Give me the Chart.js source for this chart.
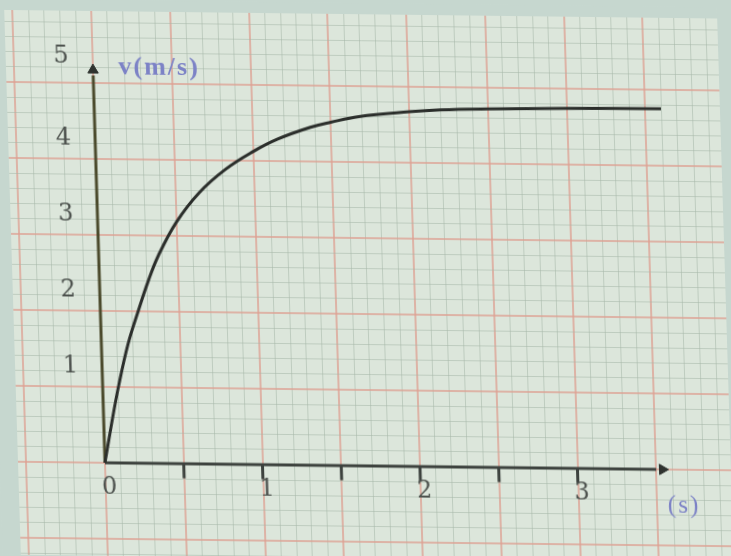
<!DOCTYPE html>
<html>
<head>
<meta charset="utf-8">
<title>v(t)</title>
<script src="https://cdn.jsdelivr.net/npm/chart.js@4.4.1/dist/chart.umd.min.js"></script>
<style>
  html, body { margin: 0; padding: 0; background: #c6d7cf; overflow: hidden; }
  #plot {
    display: block;
    transform-origin: 105px 463px;
    transform: matrix(1, 0.012, 0.0305, 1, 0, 0);
  }
</style>
</head>
<body>
<canvas id="plot" width="731" height="556"></canvas>
<script>
// speed curve, read point by point
const timeS   = [0, 0.05, 0.1, 0.17, 0.24, 0.31, 0.38, 0.5, 0.65, 0.82, 1.0, 1.16, 1.37, 1.5, 1.68, 2.0, 2.2, 2.5, 3.0, 3.6];
const speedMS = [0, 0.52, 1.0, 1.57, 2.0, 2.4, 2.74, 3.18, 3.57, 3.88, 4.12, 4.29, 4.45, 4.52, 4.6, 4.67, 4.7, 4.72, 4.74, 4.75];

// axes drawn by hand on the paper
const xTickLabels = ['0', '1', '2', '3'];
const yTickLabels = ['1', '2', '3', '4', '5'];
const xTickMarks  = [0.5, 1, 1.5, 2, 2.5, 3];
const yAxisTop = 5.1;
const xAxisEnd = 3.5;

// page layout: origin of the graph in canvas pixels, pixels per unit
const W = 731, H = 556;
const ORIGIN_X = 105, ORIGIN_Y = 463;
const PX_PER_S = 157.5, PX_PER_MS = 76;
const PAD_LEFT = 18, PAD_TOP = 11;

const xMin = -(ORIGIN_X - PAD_LEFT) / PX_PER_S;
const xMax = (W - ORIGIN_X) / PX_PER_S;
const yMax = (ORIGIN_Y - PAD_TOP) / PX_PER_MS;
const yMin = -(H - ORIGIN_Y) / PX_PER_MS;

const RED = 'rgba(222,160,146,0.72)';
const FINE = 'rgba(165,182,168,0.55)';

function isMultiple(v, step) {
    const r = Math.abs(v / step - Math.round(v / step));
    return r < 1e-6;
}

function paperTicks(min, max, step) {
    const ticks = [];
    for (let v = Math.ceil(min / step) * step; v <= max + 1e-9; v += step) {
        ticks.push({ value: Math.round(v * 1000) / 1000 });
    }
    return ticks;
}

// background: table colour around, paper inside the chart area
const paperPlugin = {
    id: 'paper',
    beforeDraw(chart) {
        const { ctx, chartArea } = chart;
        ctx.save();
        ctx.fillStyle = '#c6d7cf';
        ctx.fillRect(0, 0, chart.width, chart.height);
        ctx.fillStyle = '#dce6db';
        ctx.fillRect(chartArea.left, chartArea.top, chartArea.right - chartArea.left, chartArea.bottom - chartArea.top);
        ctx.restore();
    }
};

// handwritten-style numbers and units
const labelsPlugin = {
    id: 'handLabels',
    afterDatasetsDraw(chart) {
        const { ctx, scales } = chart;
        const x = scales.x, y = scales.y;
        ctx.save();
        ctx.textAlign = 'center';
        ctx.textBaseline = 'middle';
        ctx.font = '24px "DejaVu Serif", "Liberation Serif", serif';
        ctx.fillStyle = '#4d524e';
        xTickLabels.forEach(function (lab) {
            ctx.fillText(lab, x.getPixelForValue(Number(lab)) + 4, y.getPixelForValue(-0.32));
        });
        yTickLabels.forEach(function (lab) {
            const v = Number(lab);
            ctx.fillText(lab, x.getPixelForValue(-0.2), y.getPixelForValue(v + (v === 5 ? 0.35 : 0.27)));
        });
        ctx.fillStyle = '#7c82c6';
        ctx.font = 'bold 26px "Liberation Serif", "DejaVu Serif", serif';
        ctx.letterSpacing = '2px';
        ctx.fillText('v(m/s)', x.getPixelForValue(0.42), y.getPixelForValue(5.21));
        ctx.font = '25px "Liberation Serif", "DejaVu Serif", serif';
        ctx.fillText('(s)', x.getPixelForValue(3.67), y.getPixelForValue(-0.48));
        ctx.restore();
    }
};

const curve = timeS.map(function (t, i) { return { x: t, y: speedMS[i] }; });

new Chart(document.getElementById('plot').getContext('2d'), {
    type: 'scatter',
    data: {
        datasets: [
            {
                label: 'v',
                data: curve,
                showLine: true,
                borderColor: '#2b2e2b',
                borderWidth: 3,
                pointRadius: 0,
                tension: 0.4
            },
            {
                label: 'axe v',
                data: [{ x: 0, y: 0 }, { x: 0, y: yAxisTop }],
                showLine: true,
                borderColor: '#4b4a2c',
                borderWidth: 3,
                pointRadius: 0
            },
            {
                label: 'axe t',
                data: [{ x: 0, y: 0 }, { x: xAxisEnd, y: 0 }],
                showLine: true,
                borderColor: '#3d423e',
                borderWidth: 3,
                pointRadius: 0
            },
            {
                label: 'fleches',
                data: [{ x: 0, y: yAxisTop + 0.07 }, { x: xAxisEnd + 0.04, y: 0 }],
                pointStyle: 'triangle',
                rotation: [0, 90],
                pointRadius: 6,
                backgroundColor: '#2f332f',
                borderColor: '#2f332f',
                borderWidth: 1
            },
            {
                label: 'graduations',
                data: xTickMarks.map(function (t) { return { x: t, y: -0.1 }; }),
                pointStyle: 'line',
                rotation: 90,
                pointRadius: 7,
                borderColor: '#3d423e',
                borderWidth: 3
            }
        ]
    },
    options: {
        responsive: false,
        animation: false,
        devicePixelRatio: 1,
        layout: { autoPadding: false, padding: { left: PAD_LEFT, top: PAD_TOP, right: 0, bottom: 0 } },
        plugins: {
            legend: { display: false },
            tooltip: { enabled: false }
        },
        scales: {
            x: {
                type: 'linear',
                min: xMin,
                max: xMax,
                afterBuildTicks: function (scale) { scale.ticks = paperTicks(xMin, xMax, 0.1); },
                ticks: { display: false },
                border: { display: false },
                grid: {
                    drawTicks: false,
                    color: function (c) { return isMultiple(c.tick.value, 0.5) ? RED : FINE; },
                    lineWidth: function (c) { return isMultiple(c.tick.value, 0.5) ? 2 : 1; }
                }
            },
            y: {
                type: 'linear',
                min: yMin,
                max: yMax,
                afterBuildTicks: function (scale) { scale.ticks = paperTicks(yMin, yMax, 0.2); },
                ticks: { display: false },
                border: { display: false },
                grid: {
                    drawTicks: false,
                    color: function (c) { return isMultiple(c.tick.value, 1) ? RED : FINE; },
                    lineWidth: function (c) { return isMultiple(c.tick.value, 1) ? 2 : 1; }
                }
            }
        }
    },
    plugins: [paperPlugin, labelsPlugin]
});
</script>
</body>
</html>
